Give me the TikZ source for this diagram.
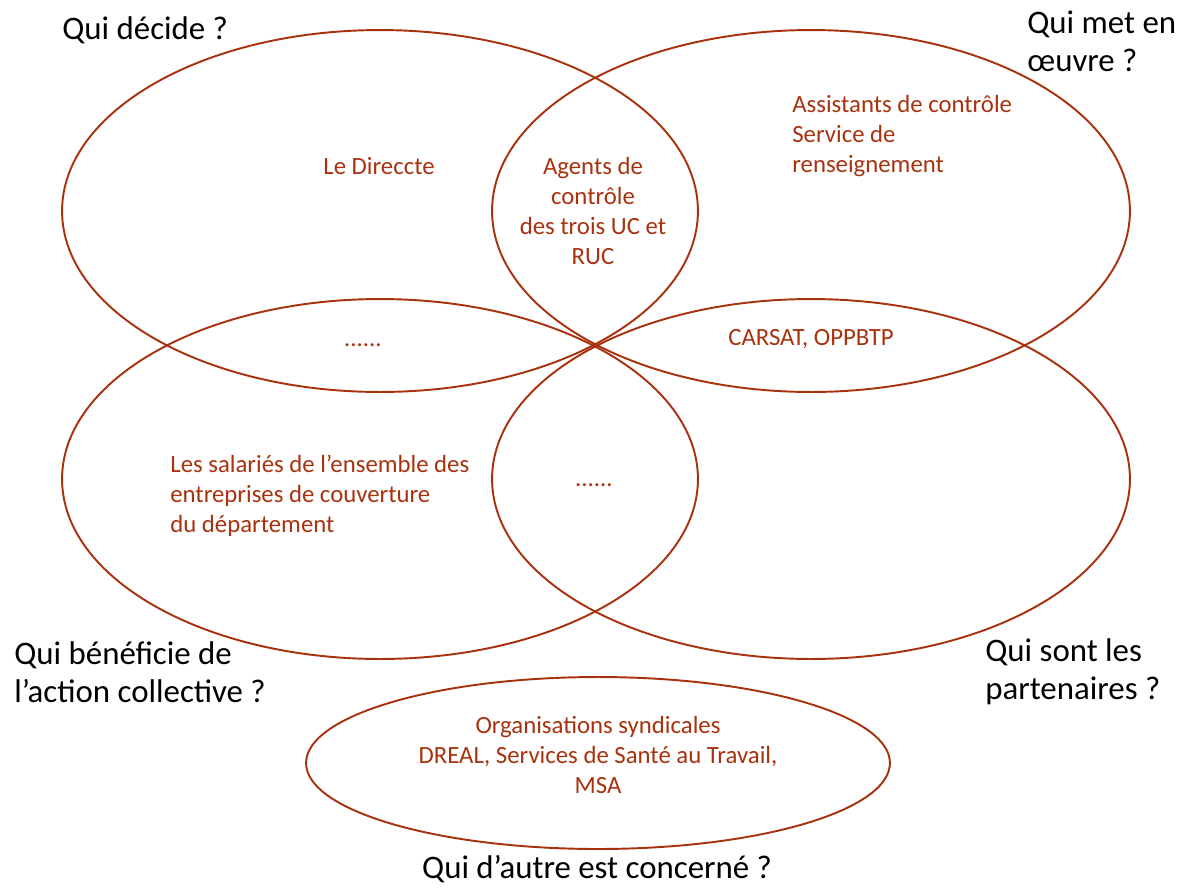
\documentclass[tikz,border=0pt]{standalone}
\usepackage{fontspec}
\setmainfont{Carlito}
\definecolor{rouille}{RGB}{168,50,14}
\begin{document}
\begin{tikzpicture}[x=0.02cm, y=-0.02cm,
    zone/.style={draw=rouille, line width=1.1pt},
    question/.style={font=\fontsize{18.7}{21.6}\selectfont, text=black, inner sep=0pt},
    acteur/.style={font=\fontsize{14.1}{17}\selectfont, text=rouille, inner sep=0pt}]
    \useasboundingbox (0,0) rectangle (1184,887);

    % Ellipses
    \draw[zone] (380,211) ellipse [x radius=6.36cm, y radius=3.62cm];
    \draw[zone] (811,211) ellipse [x radius=6.38cm, y radius=3.62cm];
    \draw[zone] (380,479) ellipse [x radius=6.36cm, y radius=3.60cm];
    \draw[zone] (811,479) ellipse [x radius=6.38cm, y radius=3.60cm];
    \draw[zone] (598,763) ellipse [x radius=5.84cm, y radius=1.72cm];

    % Questions
    \node[question, anchor=west] (decide) at (62,30) {Qui décide ?};
    \node[question, anchor=west, align=left] (oeuvre) at (1027,41) {Qui met en\\œuvre ?};
    \node[question, anchor=west, align=left] (beneficie) at (14,672) {Qui bénéficie de\\l’action collective ?};
    \node[question, anchor=west, align=left] (partenaires) at (985,672) {Qui sont les\\partenaires ?};
    \node[question] (autre) at (597,869) {Qui d’autre est concerné ?};

    % Acteurs
    \node[acteur] (direccte) at (379,166) {Le Direccte};
    \node[acteur, align=center] (agents) at (593,211) {Agents de\\contrôle\\des trois UC et\\RUC};
    \node[acteur, anchor=west, align=left] (assistants) at (792,136) {Assistants de contrôle\\Service de\\renseignement};
    \node[acteur] (points1) at (363,345) {......};
    \node[acteur] (carsat) at (811,339) {CARSAT, OPPBTP};
    \node[acteur, anchor=west, align=left] (salaries) at (170,496) {Les salariés de l’ensemble des\\entreprises de couverture\\du département};
    \node[acteur] (points2) at (594,485) {......};
    \node[acteur, align=center] (syndicats) at (598,755) {Organisations syndicales\\DREAL, Services de Santé au Travail,\\MSA};
\end{tikzpicture}
\end{document}
